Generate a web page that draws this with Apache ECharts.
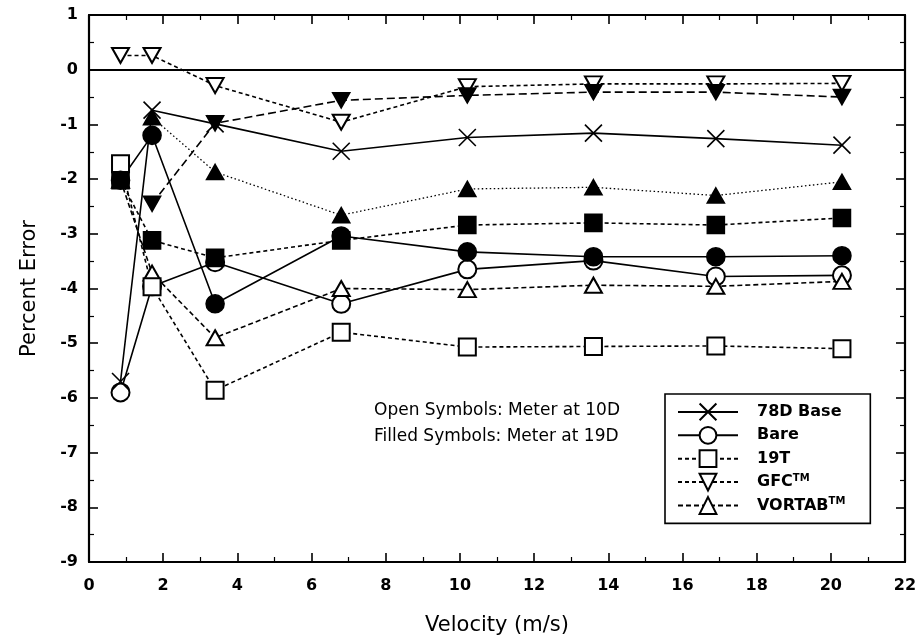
<!DOCTYPE html>
<html>
<head>
<meta charset="utf-8">
<script src="https://cdn.jsdelivr.net/npm/echarts@6/dist/echarts.min.js"></script>
<style>
  html, body { margin: 0; padding: 0; background: #fff; }
  #chart { width: 922px; height: 643px; }
</style>
</head>
<body>
<div id="chart"></div>
<script>
// Flow velocity (m/s) at which each meter configuration was tested
const velocity = [0.85, 1.7, 3.4, 6.8, 10.2, 13.6, 16.9, 20.3];

// Percent error, meter at 10D (open symbols)
const base78D   = [-5.70, -0.74, -0.99, -1.49, -1.24, -1.16, -1.26, -1.38];
const bare10D   = [-5.90, -3.96, -3.52, -4.28, -3.65, -3.49, -3.78, -3.76];
const t19T10D   = [-1.72, -3.97, -5.86, -4.80, -5.07, -5.06, -5.05, -5.10];
const gfc10D    = [0.26, 0.26, -0.29, -0.96, -0.31, -0.26, -0.26, -0.25];
const vortab10D = [-2.02, -3.72, -4.90, -4.00, -4.02, -3.94, -3.96, -3.87];

// Percent error, meter at 19D (filled symbols)
const bare19D   = [-2.02, -1.20, -4.28, -3.04, -3.33, -3.42, -3.42, -3.40];
const t19T19D   = [-2.02, -3.12, -3.44, -3.12, -2.84, -2.80, -2.84, -2.71];
const gfc19D    = [null, -2.45, -0.98, -0.56, -0.47, -0.41, -0.41, -0.50];
const vortab19D = [null, -0.87, -1.87, -2.66, -2.18, -2.15, -2.30, -2.05];

// Axis ticks
const xTicks = { min: 0, max: 22, step: 2 };
const yTicks = { min: -9, max: 1, step: 1 };

const legendNames = ['78D Base', 'Bare', '19T', 'GFC', 'VORTAB'];

const FONT = '"DejaVu Sans", "Liberation Sans", sans-serif';
const INK = '#000';
const CROSS = 'path://M0,0L20,20M20,0L0,20';

function pairs(values) {
  return velocity.map((v, i) => [v, values[i]]);
}

function series(name, values, opts) {
  return Object.assign({
    name: name,
    type: 'line',
    data: pairs(values),
    symbolSize: 17,
    lineStyle: { color: INK, width: 1.6, type: 'solid' },
    itemStyle: { color: INK, borderColor: INK, borderWidth: 1.6 },
    emphasis: { disabled: true },
    z: 3
  }, opts);
}

const frameAxis = {
  axisLine: { show: true, onZero: false, lineStyle: { color: INK, width: 2.2 } },
  axisTick: { show: true, inside: true, length: 9, lineStyle: { color: INK, width: 1.6 } },
  minorTick: { show: true, splitNumber: 2, length: 5, lineStyle: { color: INK, width: 1.2 } },
  splitLine: { show: false },
  minorSplitLine: { show: false }
};

const labelStyle = { color: INK, fontSize: 16, fontWeight: 'bold', fontFamily: FONT };

const option = {
  animation: false,
  backgroundColor: '#fff',
  grid: { left: 89, right: 17, top: 15, bottom: 81 },
  xAxis: [
    Object.assign({
      type: 'value', position: 'bottom',
      min: xTicks.min, max: xTicks.max, interval: xTicks.step,
      axisLabel: Object.assign({ margin: 16 }, labelStyle),
      name: 'Velocity (m/s)', nameLocation: 'middle', nameGap: 53,
      nameTextStyle: { color: INK, fontSize: 21, fontFamily: FONT }
    }, frameAxis),
    Object.assign({
      type: 'value', position: 'top',
      min: xTicks.min, max: xTicks.max, interval: xTicks.step,
      axisLabel: { show: false }
    }, frameAxis)
  ],
  yAxis: [
    Object.assign({
      type: 'value', position: 'left',
      min: yTicks.min, max: yTicks.max, interval: yTicks.step,
      axisLabel: Object.assign({ margin: 11 }, labelStyle),
      name: 'Percent Error', nameLocation: 'middle', nameGap: 49,
      nameTextStyle: { color: INK, fontSize: 21, fontFamily: FONT }
    }, frameAxis),
    Object.assign({
      type: 'value', position: 'right',
      min: yTicks.min, max: yTicks.max, interval: yTicks.step,
      axisLabel: { show: false }
    }, frameAxis)
  ],
  legend: {
    data: legendNames,
    orient: 'vertical',
    left: 665, top: 394,
    itemWidth: 60, itemHeight: 21, itemGap: 4.6,
    padding: [8.5, 25, 8.5, 12],
    borderColor: INK, borderWidth: 1.6, backgroundColor: '#fff',
    selectedMode: false,
    formatter: n => (n === 'GFC' || n === 'VORTAB') ? n + '{tm|TM}' : n,
    textStyle: {
      color: INK, fontSize: 16, fontWeight: 'bold', fontFamily: FONT, padding: [0, 0, 0, 14],
      rich: { tm: { fontSize: 10, fontWeight: 'bold', fontFamily: FONT, color: INK, verticalAlign: 'top', padding: [0, 0, 8, 0] } }
    }
  },
  graphic: [
    { type: 'text', left: 374, top: 402, style: { text: 'Open Symbols: Meter at 10D', font: '17px ' + FONT, fill: INK } },
    { type: 'text', left: 374, top: 428, style: { text: 'Filled Symbols: Meter at 19D', font: '17px ' + FONT, fill: INK } }
  ],
  series: [
    series('GFC', gfc10D, {
      symbol: 'emptyTriangle', symbolRotate: 180, symbolSize: [17, 15],
      lineStyle: { color: INK, width: 1.6, type: [4, 3] },
      markLine: {
        silent: true, symbol: 'none', label: { show: false },
        lineStyle: { color: INK, width: 2, type: 'solid' },
        data: [{ yAxis: 0 }]
      }
    }),
    series('GFC (19D)', gfc19D, {
      symbol: 'triangle', symbolRotate: 180, symbolSize: [17, 15],
      lineStyle: { color: INK, width: 1.6, type: [8, 4] }
    }),
    series('Bare', bare10D, { symbol: 'emptyCircle', symbolSize: 18 }),
    series('VORTAB', vortab10D, {
      symbol: 'emptyTriangle', symbolSize: [17, 15],
      lineStyle: { color: INK, width: 1.6, type: [5, 3] }
    }),
    series('19T', t19T10D, {
      symbol: 'emptyRect', symbolSize: 17,
      lineStyle: { color: INK, width: 1.6, type: [4, 3] }
    }),
    series('Bare (19D)', bare19D, { symbol: 'circle', symbolSize: 18 }),
    series('19T (19D)', t19T19D, {
      symbol: 'rect', symbolSize: 17,
      lineStyle: { color: INK, width: 1.6, type: [4, 3] }
    }),
    series('VORTAB (19D)', vortab19D, {
      symbol: 'triangle', symbolSize: [17, 15],
      lineStyle: { color: INK, width: 1.3, type: [1.5, 2.5] }
    }),
    series('78D Base', base78D, { symbol: CROSS, symbolSize: 17 })
  ]
};

const chart = echarts.init(document.getElementById('chart'), null, { renderer: 'canvas' });
chart.setOption(option);
</script>
</body>
</html>
